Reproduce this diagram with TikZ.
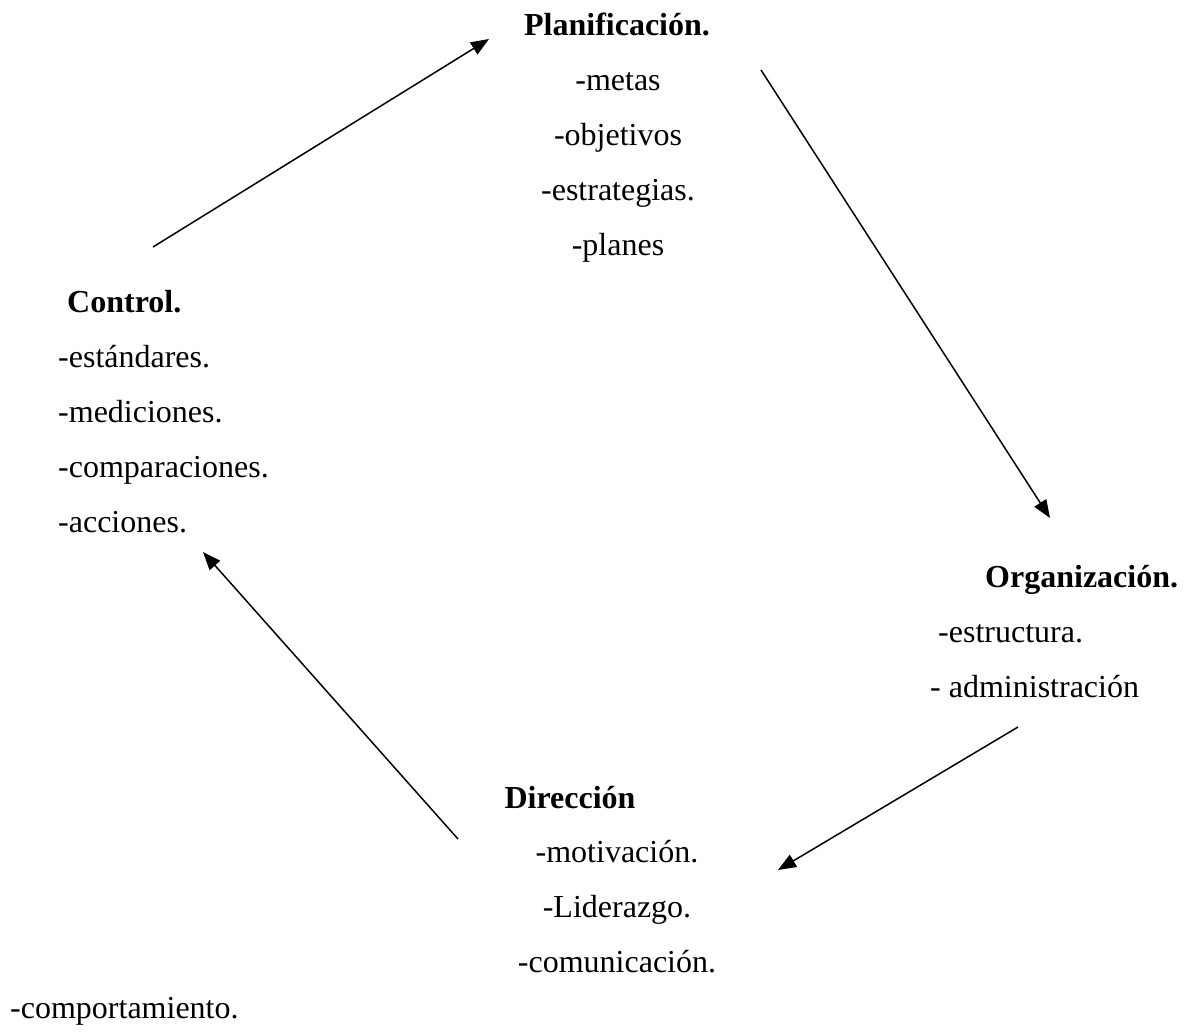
\documentclass[tikz,border=0pt]{standalone}
\usepackage{fontspec}
\setmainfont{Liberation Serif}
\usepackage{tikz}
\usetikzlibrary{arrows.meta,positioning}
\tikzset{
    %Define standard arrow tip
    >={Triangle[length=18pt,width=14pt]},
    %Define style for headings
    titulo/.style={
           inner sep=0pt,
           font=\fontsize{32}{55}\selectfont\bfseries},
    %Define style for item lists
    lista/.style={
           inner sep=0pt,
           font=\fontsize{32}{55}\selectfont},
    % Define arrow style
    flecha/.style={
           ->,
           line width=1.5pt}
}

\begin{document}
\begin{tikzpicture}[x=1pt,y=-1pt]
\useasboundingbox (0,0) rectangle (1188,1034);
% base of a list node = baseline of its last line
\node[titulo,anchor=base](plan) at (617,35){Planificación.};
\node[lista,anchor=base,align=center](planlist) at (618,255){-metas\\-objetivos\\-estrategias.\\-planes};
\node[titulo,anchor=base west](ctrl) at (67,312){Control.};
\node[lista,anchor=base west,align=left](ctrllist) at (58,532){-estándares.\\-mediciones.\\-comparaciones.\\-acciones.};
\node[titulo,anchor=base west](org) at (985,587){Organización.};
\node[lista,anchor=base west,align=left](orglist) at (930,697){\hspace{8pt}-estructura.\\- administración};
\node[titulo,anchor=base](dir) at (570,808){Dirección};
\node[lista,anchor=base,align=center](dirlist) at (617,972){-motivación.\\-Liderazgo.\\-comunicación.};
\node[lista,anchor=base west](comp) at (10,1018){-comportamiento.};
\coordinate (c1) at (153,247);
\coordinate (p1) at (489,39);
\coordinate (p2) at (761,70);
\coordinate (o1) at (1050,518);
\coordinate (o2) at (1018,727);
\coordinate (d1) at (778,870);
\coordinate (d2) at (458,839);
\coordinate (c2) at (203,552);
\draw[flecha] (c1) -- (p1);
\draw[flecha] (p2) -- (o1);
\draw[flecha] (o2) -- (d1);
\draw[flecha] (d2) -- (c2);
\end{tikzpicture}
\end{document}
